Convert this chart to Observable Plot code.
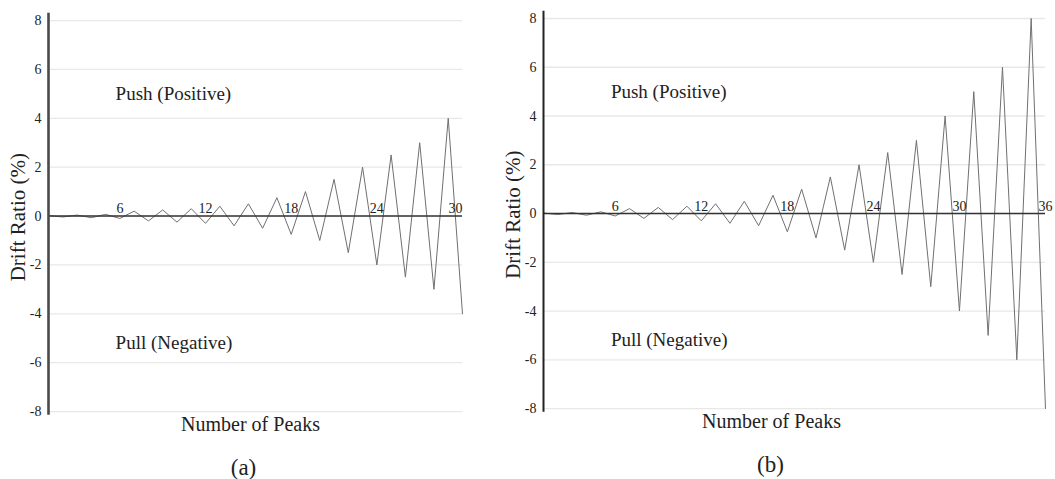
<!DOCTYPE html>
<html>
<head>
<meta charset="utf-8">
<script src="https://cdn.jsdelivr.net/npm/d3@7"></script>
<script src="https://cdn.jsdelivr.net/npm/@observablehq/plot@0.6"></script>
<style>
  html, body { margin: 0; padding: 0; background: #fff; }
  #wrap { position: relative; width: 1055px; height: 479px; overflow: hidden; background: #fff; }
  #wrap svg { position: absolute; top: 0; }
</style>
</head>
<body>
<div id="wrap"></div>
<script>
// ---- data ----
const peakNumbers = [1, 2, 3, 4, 5, 6, 7, 8, 9, 10, 11, 12, 13, 14, 15, 16, 17, 18,
  19, 20, 21, 22, 23, 24, 25, 26, 27, 28, 29, 30, 31, 32, 33, 34, 35, 36];
const driftRatio = [0.02, -0.04, 0.04, -0.07, 0.07, -0.1, 0.2, -0.2, 0.25, -0.25, 0.3, -0.3,
  0.4, -0.4, 0.5, -0.5, 0.75, -0.75, 1, -1, 1.5, -1.5, 2, -2, 2.5, -2.5, 3, -3,
  4, -4, 5, -5, 6, -6, 8, -8];
const yTicks = [-8, -6, -4, -2, 0, 2, 4, 6, 8];
const peakLabels = [6, 12, 18, 24, 30, 36];
const xTitle = "Number of Peaks";
const yTitle = "Drift Ratio (%)";
const pushText = "Push (Positive)";
const pullText = "Pull (Negative)";
const panelLetters = ["(a)", "(b)"];
const panelPeakCounts = [30, 36];

const serif = "Liberation Serif";

function panel(cfg) {
  const n = cfg.n;
  const data = peakNumbers.slice(0, n).map((p, i) => ({peak: p, drift: driftRatio[i]}));
  const labs = peakLabels.filter(d => d <= n);
  const innerLabs = cfg.lastEnd ? labs.slice(0, -1) : labs;
  const endLabs = cfg.lastEnd ? labs.slice(-1) : [];
  const T = {fontFamily: serif, fill: "#222"};
  return Plot.plot({
    width: cfg.width,
    height: 479,
    marginLeft: cfg.marginLeft,
    marginRight: cfg.marginRight,
    marginTop: cfg.marginTop,
    marginBottom: cfg.marginBottom,
    style: {fontFamily: serif, fontSize: "14px", color: "#222", background: "transparent"},
    x: {domain: [1, n], axis: null},
    y: {domain: [-8.15, 8.3], axis: null},
    marks: [
      Plot.ruleY(yTicks, {stroke: "#e8e8e8", strokeWidth: 1.3}),
      Plot.axisY(yTicks, {tickSize: 0, tickPadding: 7, tickFormat: d => String(d), label: null, fontSize: 14, ...T}),
      Plot.line(data, {x: "peak", y: "drift", stroke: "#707070", strokeWidth: 1}),
      Plot.ruleY([0], {stroke: "#333", strokeWidth: 1.6}),
      Plot.ruleX([1], {stroke: cfg.axisColor, strokeWidth: cfg.axisWidth}),
      Plot.text(innerLabs, {x: d => d, y: 0, text: d => String(d), dy: -3, lineAnchor: "bottom", fontSize: 14, ...T}),
      Plot.text(endLabs, {x: d => d, y: 0, text: d => String(d), dy: -3, lineAnchor: "bottom", textAnchor: "end", fontSize: 14, ...T}),
      Plot.text([pushText], {x: 5.7, y: 5, text: d => d, textAnchor: "start", fontSize: 19, ...T}),
      Plot.text([pullText], {x: 5.7, y: -5.2, text: d => d, textAnchor: "start", fontSize: 19, ...T}),
      Plot.text([xTitle], {frameAnchor: "bottom", text: d => d, textAnchor: "middle", dx: cfg.titleDx, dy: 9, lineAnchor: "middle", fontSize: 20, ...T}),
      Plot.text([cfg.letter], {frameAnchor: "bottom", text: d => d, textAnchor: "middle", dx: cfg.letterDx, dy: 52, lineAnchor: "middle", fontSize: 23, ...T}),
      Plot.text([yTitle], {frameAnchor: "left", text: d => d, textAnchor: "middle", rotate: -90, dx: -30, dy: 3, lineAnchor: "middle", fontSize: 21, ...T})
    ]
  });
}

const wrap = document.getElementById("wrap");

const a = panel({n: panelPeakCounts[0], width: 495, marginLeft: 48, marginRight: 33,
  marginTop: 12.7, marginBottom: 64.3, letter: panelLetters[0], lastEnd: true,
  titleDx: -5, letterDx: -12, axisColor: "#4a4a4a", axisWidth: 2.6});
a.style.left = "0px";
wrap.appendChild(a);

const b = panel({n: panelPeakCounts[1], width: 560, marginLeft: 48, marginRight: 10,
  marginTop: 10.7, marginBottom: 67.3, letter: panelLetters[1], lastEnd: false,
  titleDx: -23, letterDx: -24, axisColor: "#222", axisWidth: 2});
b.style.left = "495px";
wrap.appendChild(b);
</script>
</body>
</html>
